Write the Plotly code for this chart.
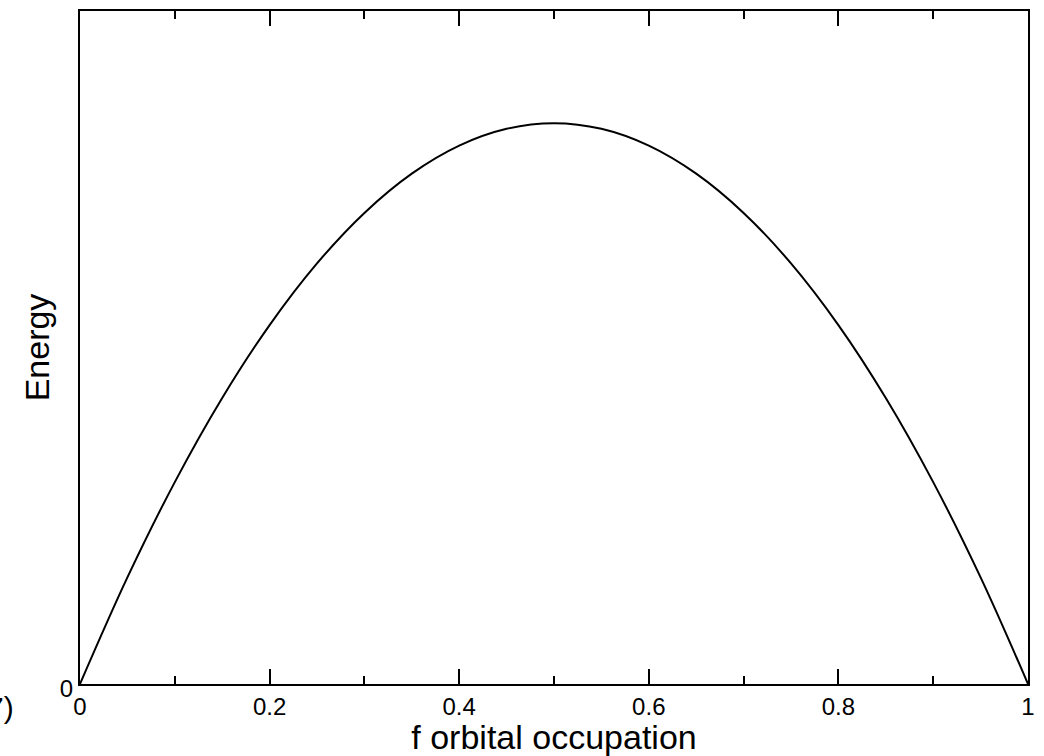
import plotly.graph_objects as go

# f orbital occupation and energy values
occupation = [0.0, 0.05, 0.10, 0.15, 0.20, 0.25, 0.30, 0.35, 0.40, 0.45, 0.50,
              0.55, 0.60, 0.65, 0.70, 0.75, 0.80, 0.85, 0.90, 0.95, 1.0]
energy = [0.0, 0.19, 0.36, 0.51, 0.64, 0.75, 0.84, 0.91, 0.96, 0.99, 1.0,
          0.99, 0.96, 0.91, 0.84, 0.75, 0.64, 0.51, 0.36, 0.19, 0.0]

x_tickvals = [0, 0.2, 0.4, 0.6, 0.8, 1]
x_ticktext = ["0", "0.2", "0.4", "0.6", "0.8", "1"]
y_tickvals = [0]
y_ticktext = ["0"]

FONT = "Liberation Sans, Arial, Helvetica, sans-serif"

fig = go.Figure()
fig.add_trace(go.Scatter(
    x=occupation, y=energy, mode="lines",
    line=dict(color="black", width=2, shape="spline", smoothing=1.0),
    showlegend=False, hoverinfo="skip"))

fig.update_layout(
    width=1044, height=756,
    margin=dict(l=80, r=10, t=9, b=72),
    paper_bgcolor="white", plot_bgcolor="white",
    font=dict(family=FONT, color="black"),
    showlegend=False,
)

fig.update_xaxes(
    range=[0, 1],
    tickvals=x_tickvals, ticktext=x_ticktext,
    ticks="inside", ticklen=15, tickwidth=2, tickcolor="black",
    minor=dict(ticks="inside", ticklen=8, tickwidth=2, tickcolor="black",
               tickvals=[0.1, 0.3, 0.5, 0.7, 0.9]),
    showline=True, linecolor="black", linewidth=2, mirror="ticks",
    showgrid=False, zeroline=False,
    tickfont=dict(size=24, family=FONT, color="black"),
    title=dict(text="f orbital occupation", font=dict(size=34, family=FONT, color="black"),
               standoff=3),
)

fig.update_yaxes(
    range=[0, 1.2],
    tickvals=y_tickvals, ticktext=y_ticktext,
    ticks="", showline=True, linecolor="black", linewidth=2, mirror=True,
    showgrid=False, zeroline=False,
    tickfont=dict(size=24, family=FONT, color="black"),
    ticklabelshift=5,
    title=dict(text="Energy", font=dict(size=34, family=FONT, color="black"),
               standoff=0),
)

fig.add_annotation(
    text="7)", xref="paper", yref="paper", x=-80/954, y=-24/675,
    xanchor="right", yanchor="middle", xshift=15, showarrow=False,
    font=dict(size=30, family=FONT, color="black"))

fig.write_html("out.html")
